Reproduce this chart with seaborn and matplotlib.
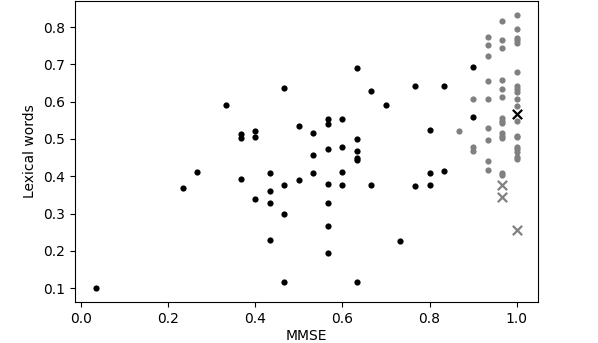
"""
MMSE vs lexical words scatter.
"""

import matplotlib
matplotlib.use('Agg')
import matplotlib.pyplot as plt
import numpy as np
import pandas as pd
import seaborn as sns

# MMSE score out of 30 -> x value k/30
black_k = [1, 7, 8, 10,
           11, 11, 11,
           12, 12, 12,
           13, 13, 13, 13,
           14, 14, 14, 14,
           15, 15,
           16, 16, 16,
           17, 17, 17, 17, 17, 17, 17,
           18, 18, 18, 18,
           19, 19, 19, 19, 19, 19,
           20, 20, 21, 22, 23, 23,
           24, 24, 24, 25, 25, 27, 27]
black_y = [0.100, 0.369, 0.412, 0.591,
           0.513, 0.502, 0.392,
           0.522, 0.506, 0.339,
           0.410, 0.360, 0.327, 0.228,
           0.636, 0.376, 0.300, 0.117,
           0.536, 0.390,
           0.517, 0.458, 0.409,
           0.554, 0.540, 0.474, 0.380, 0.327, 0.267, 0.194,
           0.554, 0.479, 0.412, 0.377,
           0.690, 0.500, 0.467, 0.450, 0.444, 0.117,
           0.629, 0.377, 0.591, 0.227, 0.642, 0.374,
           0.525, 0.408, 0.377, 0.641, 0.414, 0.692, 0.558]

gray_k = [26,
          27, 27, 27,
          28, 28, 28, 28, 28, 28, 28, 28, 28,
          29, 29, 29, 29, 29, 29, 29, 29, 29, 29, 29, 29, 29, 29,
          30, 30, 30, 30, 30, 30, 30, 30, 30, 30,
          30, 30, 30, 30, 30, 30, 30, 30, 30]
gray_y = [0.521,
          0.606, 0.479, 0.468,
          0.774, 0.753, 0.721, 0.656, 0.607, 0.529, 0.498, 0.441, 0.418,
          0.816, 0.765, 0.744, 0.657, 0.634, 0.612, 0.556, 0.549, 0.543,
          0.515, 0.508, 0.502, 0.409, 0.402,
          0.833, 0.794, 0.770, 0.764, 0.758, 0.679, 0.643, 0.634, 0.626,
          0.607, 0.588, 0.549, 0.509, 0.504, 0.479, 0.472, 0.466, 0.452,
          0.446]

gray_x_k = [29, 29, 30]
gray_x_y = [0.377, 0.344, 0.255]

black_x_k = [30]
black_x_y = [0.566]


def to_df(k, y):
    return pd.DataFrame({'MMSE': np.array(k) / 30.0, 'Lexical words': y})


fig = plt.figure(figsize=(5.98, 3.43), dpi=100)
ax = fig.add_axes([0.125, 0.12, 0.774, 0.877])

sns.scatterplot(data=to_df(black_k, black_y), x='MMSE', y='Lexical words',
                color='black', s=20, linewidth=0, ax=ax)
sns.scatterplot(data=to_df(gray_k, gray_y), x='MMSE', y='Lexical words',
                color='gray', s=20, linewidth=0, ax=ax)
sns.scatterplot(data=to_df(gray_x_k, gray_x_y), x='MMSE', y='Lexical words',
                color='gray', marker='x', s=45, linewidth=1.6, ax=ax)
sns.scatterplot(data=to_df(black_x_k, black_x_y), x='MMSE', y='Lexical words',
                color='black', marker='x', s=45, linewidth=1.6, ax=ax)

ax.set_xlabel('MMSE', labelpad=2.5)
ax.set_ylabel('Lexical words')

fig.savefig('out.png', dpi=100)
